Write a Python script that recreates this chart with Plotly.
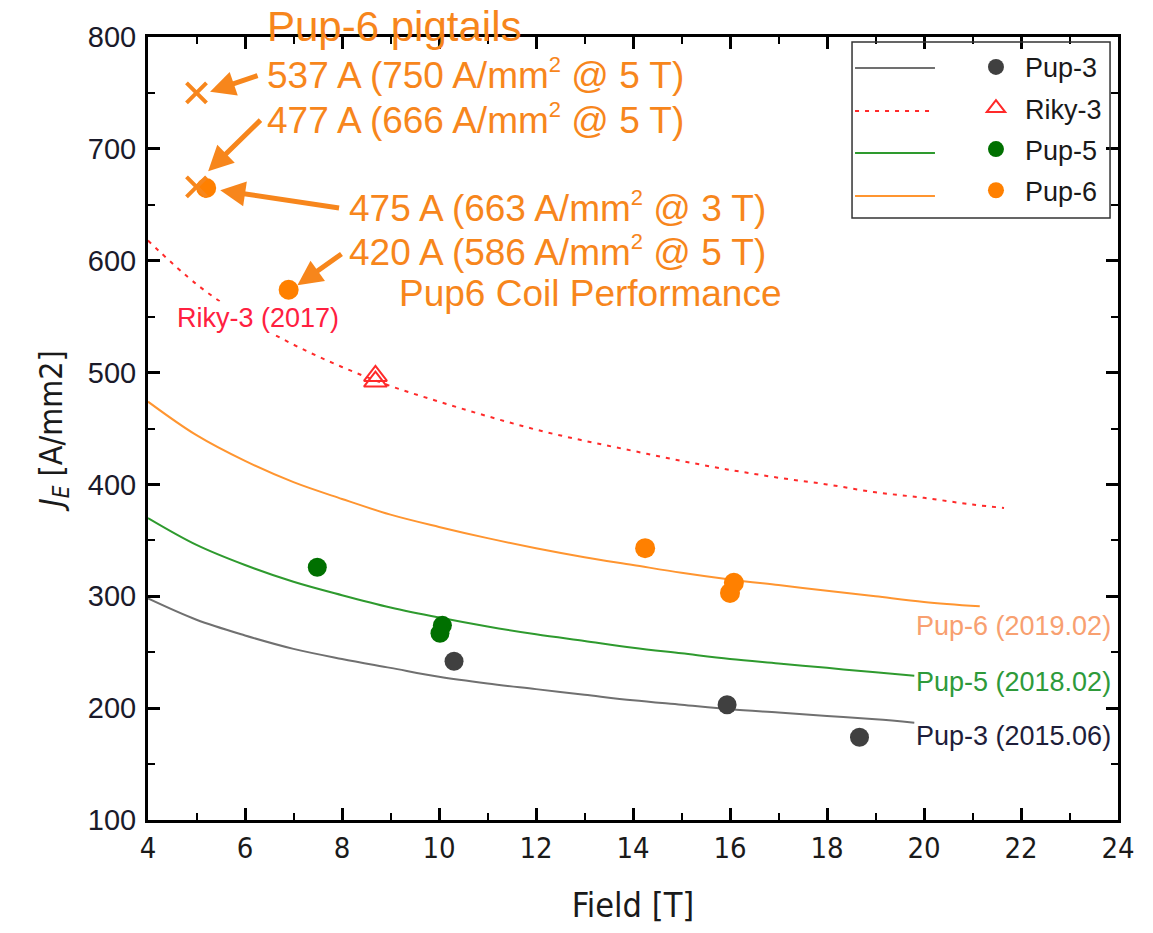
import plotly.graph_objects as go

# ---------------- data ----------------
pup3_B = [10.31, 15.94, 18.67]
pup3_J = [242, 203, 174]

riky3_B = [8.69, 8.69]
riky3_J = [497, 492]

pup5_B = [7.49, 10.07, 10.02]
pup5_J = [326, 274, 267]

pup6_B = [5.2, 6.9, 14.25, 16.08, 16.0]
pup6_J = [665, 574, 343, 312, 303]

pigtail_B = [5.0, 5.0]
pigtail_J = [750, 666]

# fitted curves (read at integer fields)
pup3_fit_B = [4, 5, 6, 7, 8, 9, 10, 11, 12, 13, 14, 15, 16, 17, 18, 19, 19.8]
pup3_fit_J = [298, 279, 265, 253, 244, 236, 228, 222, 217, 212, 207, 203, 199, 196, 193, 190, 187]

pup5_fit_B = [4, 5, 6, 7, 8, 9, 10, 11, 12, 13, 14, 15, 16, 17, 18, 19, 19.8]
pup5_fit_J = [370, 346, 328, 313, 301, 290, 281, 273, 266, 260, 254, 249, 244, 240, 236, 232, 229]

pup6_fit_B = [4, 5, 6, 7, 8, 9, 10, 11, 12, 13, 14, 15, 16, 17, 18, 19, 20, 21.15]
pup6_fit_J = [474, 444, 421, 402, 387, 373, 362, 352, 343, 335, 328, 321, 315, 310, 305, 300, 295, 291]

riky3_fit_B = [4, 5, 6, 7, 8, 9, 10, 11, 12, 13, 14, 15, 16, 17, 18, 19, 20, 21, 21.65]
riky3_fit_J = [618, 579, 549, 525, 505, 488, 474, 461, 449, 439, 430, 421, 413, 406, 400, 393, 388, 382, 379]

series_names = ["Pup-3", "Riky-3", "Pup-5", "Pup-6"]

# ---------------- styles ----------------
GRAY_M, GRAY_L = "#404040", "#707070"
RED = "#FF2A2A"
GREEN_M, GREEN_L = "#007000", "#2E9A2E"
ORANGE_M, ORANGE_L = "#FF8000", "#FF9530"
ANN = "#F7861C"
SANS = "'Liberation Sans', Arial, sans-serif"
NARROW = "'DejaVu Sans Condensed', 'Liberation Sans', sans-serif"
SUP2 = "<sup><span style='font-size:22px'>2</span></sup>"

fig = go.Figure()

# curves
fig.add_trace(go.Scatter(x=pup3_fit_B, y=pup3_fit_J, mode="lines", line_shape="spline",
                         line=dict(color=GRAY_L, width=2), showlegend=False))
fig.add_trace(go.Scatter(x=riky3_fit_B, y=riky3_fit_J, mode="lines", line_shape="spline",
                         line=dict(color=RED, width=2, dash="4px,6px"), showlegend=False))
fig.add_trace(go.Scatter(x=pup5_fit_B, y=pup5_fit_J, mode="lines", line_shape="spline",
                         line=dict(color=GREEN_L, width=2), showlegend=False))
fig.add_trace(go.Scatter(x=pup6_fit_B, y=pup6_fit_J, mode="lines", line_shape="spline",
                         line=dict(color=ORANGE_L, width=2), showlegend=False))

# measured points
fig.add_trace(go.Scatter(x=pup3_B, y=pup3_J, mode="markers", name=series_names[0],
                         marker=dict(color=GRAY_M, size=19), legendgroup="a"))
fig.add_trace(go.Scatter(x=riky3_B, y=riky3_J, mode="markers", name=series_names[1],
                         marker=dict(symbol="triangle-up-open", color=RED, size=20,
                                     line=dict(width=2, color=RED)),
                         legendgroup="b"))
fig.add_trace(go.Scatter(x=pup5_B, y=pup5_J, mode="markers", name=series_names[2],
                         marker=dict(color=GREEN_M, size=19), legendgroup="c"))
fig.add_trace(go.Scatter(x=pup6_B, y=pup6_J, mode="markers", name=series_names[3],
                         marker=dict(color=ORANGE_M, size=20), legendgroup="d"))
fig.add_trace(go.Scatter(x=pigtail_B, y=pigtail_J, mode="markers", showlegend=False,
                         marker=dict(symbol="x-thin", size=20,
                                     line=dict(width=4, color=ANN))))

# ---------------- annotations ----------------
ann = []
# curve labels
ann.append(dict(x=6.26, y=549, text="Riky-3 (2017)", showarrow=False, xanchor="center",
                font=dict(family=SANS, size=27, color="#FF2040"), bgcolor="white", borderpad=1))
ann.append(dict(x=23.9, y=273, text="Pup-6 (2019.02)", showarrow=False, xanchor="right",
                font=dict(family=SANS, size=27, color="#F8A070")))
ann.append(dict(x=23.9, y=223, text="Pup-5 (2018.02)", showarrow=False, xanchor="right",
                font=dict(family=SANS, size=27, color="#2E9A3A")))
ann.append(dict(x=23.9, y=175, text="Pup-3 (2015.06)", showarrow=False, xanchor="right",
                font=dict(family=SANS, size=27, color="#1E1E3A")))

# orange texts
ann.append(dict(x=6.41, y=1.0128, yref="paper", yanchor="middle", text="Pup-6 pigtails",
                showarrow=False, xanchor="left", font=dict(family=SANS, size=42, color=ANN)))
ann.append(dict(x=6.41, y=767, text="537 A (750 A/mm" + SUP2 + " @ 5 T)", showarrow=False,
                xanchor="left", font=dict(family=SANS, size=37, color=ANN)))
ann.append(dict(x=6.41, y=727, text="477 A (666 A/mm" + SUP2 + " @ 5 T)", showarrow=False,
                xanchor="left", font=dict(family=SANS, size=37, color=ANN)))
ann.append(dict(x=8.10, y=648, text="475 A (663 A/mm" + SUP2 + " @ 3 T)", showarrow=False,
                xanchor="left", font=dict(family=SANS, size=37, color=ANN)))
ann.append(dict(x=8.10, y=609, text="420 A (586 A/mm" + SUP2 + " @ 5 T)", showarrow=False,
                xanchor="left", font=dict(family=SANS, size=37, color=ANN)))
ann.append(dict(x=9.13, y=571, text="Pup6 Coil Performance", showarrow=False,
                xanchor="left", font=dict(family=SANS, size=37, color=ANN)))

# arrows (tip x,y ; tail ax,ay)
arrows = [((5.28, 751), (6.29, 766)),
          ((5.24, 680), (6.35, 727)),
          ((5.49, 663), (7.97, 647)),
          ((7.08, 578), (8.02, 607))]
for (tx, ty), (sx, sy) in arrows:
    ann.append(dict(x=tx, y=ty, ax=sx, ay=sy, axref="x", ayref="y", text="",
                    showarrow=True, arrowhead=2, arrowsize=1.0, arrowwidth=5,
                    arrowcolor=ANN, standoff=0, startstandoff=0))

# ---------------- legend decoration ----------------
shapes = [dict(type="rect", xref="paper", yref="paper", x0=0.7258, x1=0.9918,
               y0=0.7688, y1=0.9936, line=dict(color="#333333", width=1.5),
               fillcolor="rgba(0,0,0,0)", layer="above")]
legend_line_styles = [dict(color=GRAY_L, width=2), dict(color=RED, width=2, dash="4px,6px"),
                      dict(color=GREEN_L, width=2), dict(color=ORANGE_L, width=2)]
legend_rows = [0.9604, 0.9055, 0.8519, 0.7969]
for yy, st in zip(legend_rows, legend_line_styles):
    shapes.append(dict(type="line", xref="paper", yref="paper", x0=0.7289, x1=0.8113,
                       y0=yy, y1=yy, line=st, layer="above"))

axis_common = dict(showline=True, linewidth=3, linecolor="black", mirror="ticks",
                   ticks="inside", ticklen=12, tickwidth=3, tickcolor="black",
                   showgrid=False, zeroline=False)

fig.update_layout(
    width=1153, height=933,
    margin=dict(l=148, r=35, t=37, b=113),
    paper_bgcolor="white", plot_bgcolor="white",
    showlegend=True,
    legend=dict(x=0.8443, y=0.9925, xanchor="left", yanchor="top",
                bgcolor="rgba(0,0,0,0)", borderwidth=0, tracegroupgap=3,
                itemwidth=48,
                font=dict(family=SANS, size=27, color="#1a1a1a")),
    xaxis=dict(range=[4, 24], dtick=2, tick0=4,
               minor=dict(dtick=1, ticks="inside", ticklen=7, tickwidth=2, tickcolor="black"),
               tickfont=dict(family=NARROW, size=29, color="#1a1a1a"),
               title=dict(text="Field [T]", font=dict(family=NARROW, size=34, color="#1a1a1a"),
                          standoff=30),
               **axis_common),
    yaxis=dict(range=[100, 800], dtick=100, tick0=100,
               minor=dict(dtick=50, ticks="inside", ticklen=7, tickwidth=2, tickcolor="black"),
               tickfont=dict(family=SANS, size=29, color="#1a1a2a"),
               ticklabelstandoff=3,
               title=dict(text="<i>J</i><sub><i>E</i></sub> [A/mm2]",
                          font=dict(family=NARROW, size=32, color="#1a1a1a"), standoff=16),
               **axis_common),
    annotations=ann,
    shapes=shapes,
)

fig.write_html("out.html")
